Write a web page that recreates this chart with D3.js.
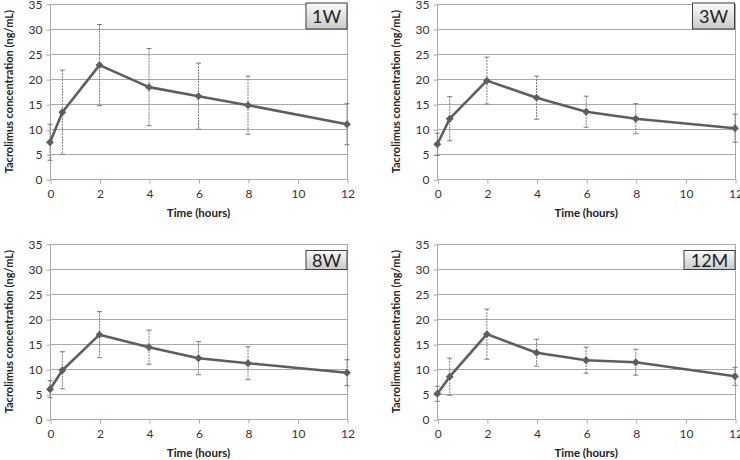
<!DOCTYPE html>
<html>
<head>
<meta charset="utf-8">
<script src="https://cdn.jsdelivr.net/npm/d3@7"></script>
<style>
  html, body { margin: 0; padding: 0; background: #fff; }
  svg { display: block; }
  text { font-family: Lato, "Open Sans", sans-serif; }
</style>
</head>
<body>
<svg id="chart" width="740" height="460"></svg>
<script>
// ---- data ----
const times = [0, 0.5, 2, 4, 6, 8, 12];
const xTicks = [0, 2, 4, 6, 8, 10, 12];
const yTicks = [0, 5, 10, 15, 20, 25, 30, 35];
const panelLabels = ["1W", "3W", "8W", "12M"];
const mean1W = [7.4, 13.4, 22.8, 18.4, 16.6, 14.8, 11.0];
const sd1W   = [3.6, 8.4, 8.1, 7.7, 6.6, 5.8, 4.1];
const mean3W = [7.0, 12.1, 19.7, 16.3, 13.5, 12.1, 10.2];
const sd3W   = [2.2, 4.4, 4.7, 4.3, 3.1, 3.0, 2.8];
const mean8W = [6.0, 9.8, 16.9, 14.4, 12.2, 11.2, 9.3];
const sd8W   = [1.7, 3.7, 4.6, 3.4, 3.3, 3.3, 2.6];
const mean12M = [5.1, 8.5, 17.0, 13.3, 11.8, 11.4, 8.6];
const sd12M   = [1.5, 3.7, 5.0, 2.7, 2.6, 2.6, 1.8];
const yTitle = "Tacrolimus concentration (ng/mL)";
const xTitle = "Time (hours)";

const series = [mean1W, mean3W, mean8W, mean12M];
const sds = [sd1W, sd3W, sd8W, sd12M];

// ---- layout ----
const panels = [
  { left: 50,    right: 347,   top: 4,   bottom: 179.3, box: [306, 3, 347, 29] },
  { left: 437.3, right: 735,   top: 4,   bottom: 179.3, box: [692.5, 3, 734.5, 29] },
  { left: 50,    right: 347,   top: 244, bottom: 419.3, box: [306, 250.5, 347, 269.5] },
  { left: 437.3, right: 735,   top: 244, bottom: 419.3, box: [684, 250.5, 735, 269.5] }
];

const svg = d3.select("#chart");
const defs = svg.append("defs");
const grad = defs.append("linearGradient").attr("id", "boxGrad")
  .attr("x1", 0).attr("y1", 0).attr("x2", 0).attr("y2", 1);
grad.append("stop").attr("offset", "0%").attr("stop-color", "#fbfbfb");
grad.append("stop").attr("offset", "100%").attr("stop-color", "#c9c9c9");

const gridColor = "#a9a9a9";
const lineColor = "#5e5e5e";

panels.forEach((p, i) => {
  const x = d3.scaleLinear().domain([0, 12]).range([p.left, p.right]);
  const y = d3.scaleLinear().domain([0, 35]).range([p.bottom, p.top]);
  const g = svg.append("g");
  const means = series[i], sd = sds[i];

  // gridlines
  g.append("g").selectAll("line").data(yTicks).join("line")
    .attr("x1", p.left).attr("x2", p.right)
    .attr("y1", d => Math.round(y(d)) + 0.5).attr("y2", d => Math.round(y(d)) + 0.5)
    .attr("stroke", gridColor).attr("stroke-width", 1);

  // y axis
  const yAxis = d3.axisLeft(y).tickValues(yTicks).tickSize(4).tickPadding(4);
  const ya = g.append("g").attr("transform", `translate(${Math.round(p.left) + 0.5},0.5)`).call(yAxis);
  ya.select(".domain").attr("stroke", gridColor).attr("d", `M0,${y(35)}V${y(0)}`);
  ya.selectAll(".tick line").attr("stroke", gridColor);
  ya.selectAll(".tick text").attr("font-size", 12).attr("fill", "#333")
    .attr("font-family", "Lato, sans-serif");

  // x axis
  const xAxis = d3.axisBottom(x).tickValues(xTicks).tickSize(4).tickPadding(6);
  const xa = g.append("g").attr("transform", `translate(0.5,${Math.round(p.bottom) + 0.5})`).call(xAxis);
  xa.select(".domain").attr("stroke", gridColor).attr("d", `M${x(0)},0H${x(12)}`);
  xa.selectAll(".tick line").attr("stroke", gridColor);
  xa.selectAll(".tick text").attr("font-size", 12).attr("fill", "#333")
    .attr("font-family", "Lato, sans-serif");

  // right border
  g.append("line")
    .attr("x1", Math.round(x(12)) + 0.5).attr("x2", Math.round(x(12)) + 0.5)
    .attr("y1", y(35)).attr("y2", y(0))
    .attr("stroke", gridColor);

  // error bars
  const eb = g.append("g");
  times.forEach((t, k) => {
    const cx = x(t);
    const yHi = y(means[k] + sd[k]), yLo = y(means[k] - sd[k]);
    eb.append("line").attr("x1", cx).attr("x2", cx).attr("y1", yHi).attr("y2", yLo)
      .attr("stroke", "#7a7a7a").attr("stroke-width", 1).attr("stroke-dasharray", "2,1");
    [yHi, yLo].forEach(yy => {
      eb.append("line").attr("x1", cx - 2.5).attr("x2", cx + 2.5).attr("y1", yy).attr("y2", yy)
        .attr("stroke", "#7a7a7a").attr("stroke-width", 1);
    });
  });

  // line
  const line = d3.line().x((d, k) => x(times[k])).y(d => y(d));
  g.append("path").datum(means).attr("d", line)
    .attr("fill", "none").attr("stroke", lineColor).attr("stroke-width", 2.6)
    .attr("stroke-linejoin", "round");

  // markers
  g.append("g").selectAll("path").data(means).join("path")
    .attr("d", d3.symbol().type(d3.symbolDiamond2).size(40))
    .attr("transform", (d, k) => `translate(${x(times[k])},${y(d)})`)
    .attr("fill", lineColor);

  // axis titles
  g.append("text")
    .attr("x", (p.left + p.right) / 2).attr("y", p.bottom + 38)
    .attr("text-anchor", "middle").attr("font-weight", "bold").attr("font-size", 11.5)
    .attr("fill", "#222").text(xTitle);
  g.append("text")
    .attr("transform", `translate(${p.left - 37},${(p.top + p.bottom) / 2}) rotate(-90)`)
    .attr("text-anchor", "middle").attr("font-weight", "bold").attr("font-size", 11)
    .attr("fill", "#222").text(yTitle);

  // label box
  const [bx0, by0, bx1, by1] = p.box;
  g.append("rect").attr("x", bx0).attr("y", by0).attr("width", bx1 - bx0).attr("height", by1 - by0)
    .attr("fill", "url(#boxGrad)").attr("stroke", "#3c3c3c").attr("stroke-width", 1);
  g.append("text").attr("x", (bx0 + bx1) / 2).attr("y", (by0 + by1) / 2 + 6.5)
    .attr("text-anchor", "middle").attr("font-size", 18).attr("fill", "#222")
    .text(panelLabels[i]);
});
</script>
</body>
</html>
